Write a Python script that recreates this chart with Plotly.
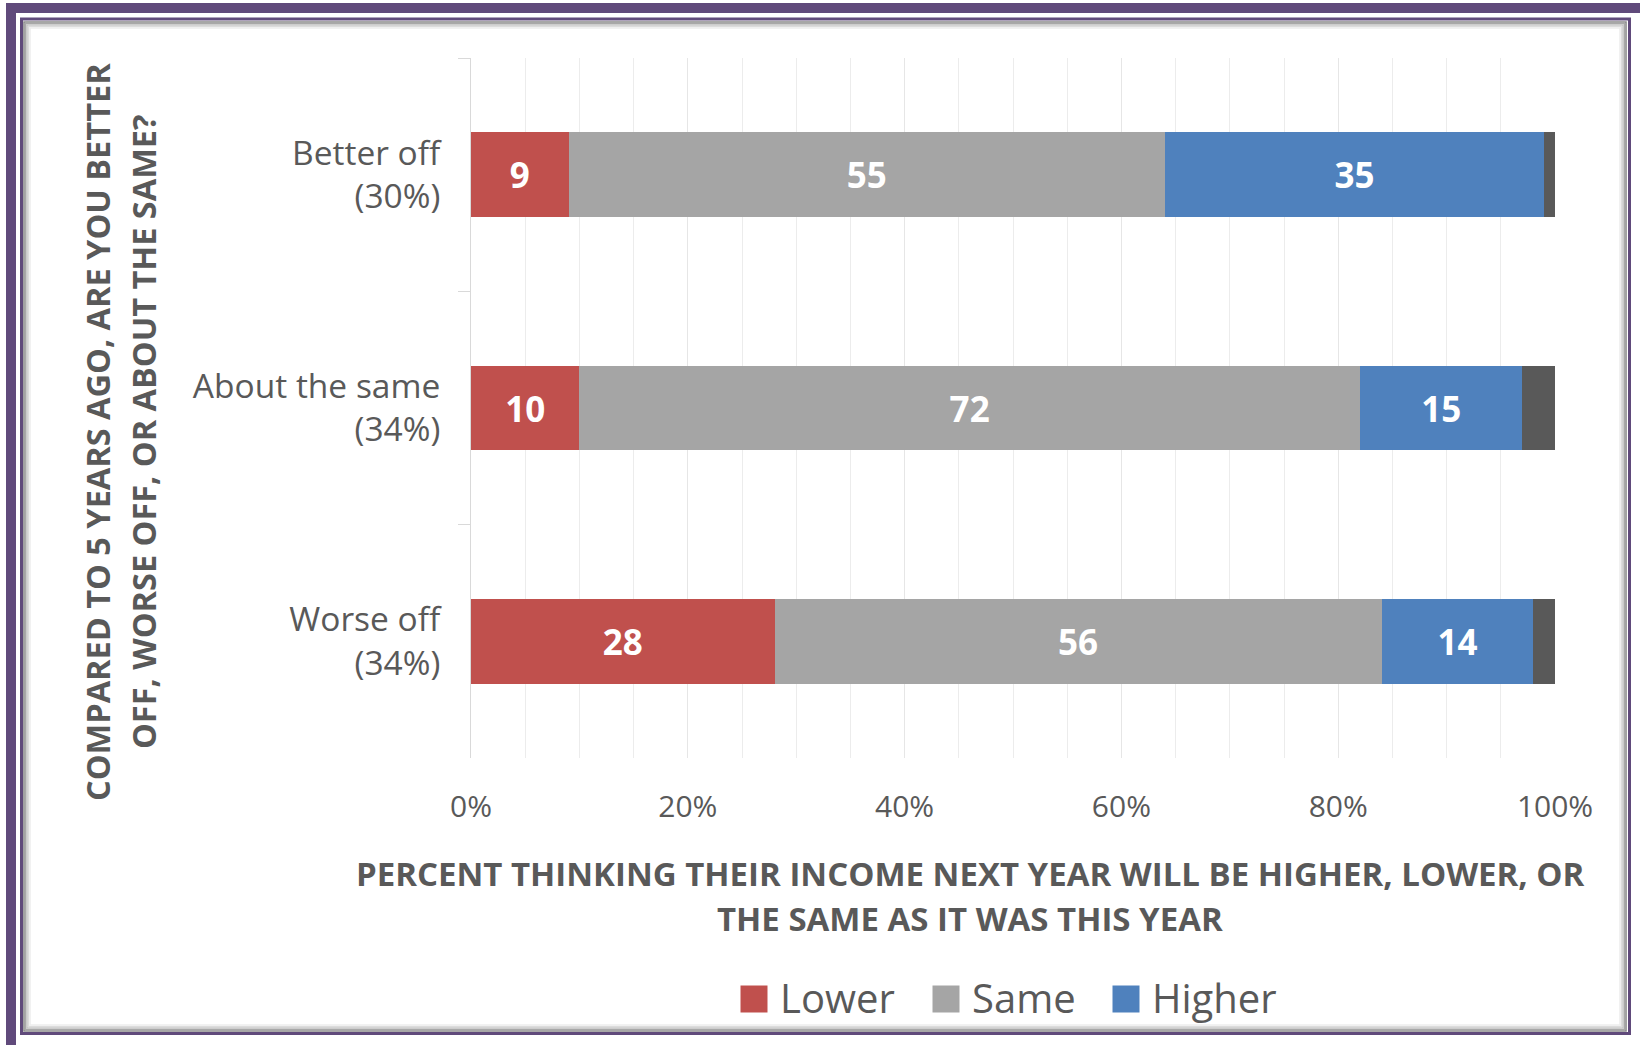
import plotly.graph_objects as go

# Survey groups (top to bottom) and the share answering each way, in percent
groups = ["Better off<br>(30%)", "About the same<br>(34%)", "Worse off<br>(34%)"]
lower = [9, 10, 28]
same = [55, 72, 56]
higher = [35, 15, 14]
remainder = [1, 3, 2]

x_ticks = [0, 20, 40, 60, 80, 100]
x_tick_text = ["0%", "20%", "40%", "60%", "80%", "100%"]

RED = "#C0504D"
GREY = "#A5A5A5"
BLUE = "#4F81BD"
DARK = "#595959"
PURPLE = "#604A7B"
TEXT = "#595959"

W, H = 1640, 1045
L, R, T, B = 471, 1555, 58, 758
PW, PH = R - L, B - T


def px(x):
    return (x - L) / PW


def py(y):
    return (B - y) / PH


fig = go.Figure()

series = [
    ("Lower", lower, RED, True),
    ("Same", same, GREY, True),
    ("Higher", higher, BLUE, True),
    ("No answer", remainder, DARK, False),
]
for name, vals, color, labelled in series:
    fig.add_trace(go.Bar(
        name=name,
        y=groups,
        x=vals,
        orientation="h",
        marker=dict(color=color, line=dict(width=0)),
        text=vals if labelled else None,
        texttemplate="%{text}" if labelled else None,
        textposition="inside" if labelled else "none",
        insidetextanchor="middle",
        textangle=0,
        constraintext="none",
        textfont=dict(family="Open Sans", size=35, color="white", weight="bold"),
        showlegend=False,
        hoverinfo="x+name",
    ))

shapes = []
# outer frame: heavy purple band, thin purple rule and a soft inner shadow
shapes.append(dict(type="rect", xref="paper", yref="paper",
                   x0=px(11), x1=px(1645), y0=py(8), y1=py(1050),
                   line=dict(color=PURPLE, width=10), layer="below"))
shapes.append(dict(type="rect", xref="paper", yref="paper",
                   x0=px(21.5), x1=px(1629.5), y0=py(19), y1=py(1033.5),
                   line=dict(color=PURPLE, width=3), layer="below"))
for i, c in enumerate(["#8a8a8a", "#a8a8a8", "#c4c4c4", "#dcdcdc", "#eeeeee"]):
    o = 24 + i * 1.5
    shapes.append(dict(type="rect", xref="paper", yref="paper",
                       x0=px(o), x1=px(1627 - i * 1.5 - 1), y0=py(22 + i * 1.5),
                       y1=py(1031 - i * 1.5),
                       line=dict(color=c, width=1.6), layer="below"))

annotations = [
    dict(text="COMPARED TO 5 YEARS AGO, ARE YOU BETTER", textangle=-90,
         xref="paper", yref="paper", x=px(97), y=py(432), showarrow=False,
         xanchor="center", yanchor="middle",
         font=dict(family="Open Sans", size=32.5, color=TEXT, weight="bold")),
    dict(text="OFF, WORSE OFF, OR ABOUT THE SAME?", textangle=-90,
         xref="paper", yref="paper", x=px(143), y=py(432), showarrow=False,
         xanchor="center", yanchor="middle",
         font=dict(family="Open Sans", size=32.5, color=TEXT, weight="bold")),
    dict(text="PERCENT THINKING THEIR INCOME NEXT YEAR WILL BE HIGHER, LOWER, OR",
         xref="paper", yref="paper", x=px(970), y=py(873), showarrow=False,
         xanchor="center", yanchor="middle",
         font=dict(family="Open Sans", size=33, color=TEXT, weight="bold")),
    dict(text="THE SAME AS IT WAS THIS YEAR",
         xref="paper", yref="paper", x=px(970), y=py(918), showarrow=False,
         xanchor="center", yanchor="middle",
         font=dict(family="Open Sans", size=33, color=TEXT, weight="bold")),
]

# legend row under the chart: a swatch and a label for each labelled series
legend_swatch_x = [754, 946, 1126]
legend_y = 999
swatch = 27
for (name, _, color, _), sx in zip(series[:3], legend_swatch_x):
    shapes.append(dict(type="rect", xref="paper", yref="paper",
                       x0=px(sx - swatch / 2), x1=px(sx + swatch / 2),
                       y0=py(legend_y + swatch / 2), y1=py(legend_y - swatch / 2),
                       fillcolor=color, line=dict(width=0)))
    annotations.append(dict(text=name, xref="paper", yref="paper",
                            x=px(sx + swatch / 2 + 10), y=py(legend_y - 2),
                            showarrow=False, xanchor="left", yanchor="middle",
                            font=dict(family="Open Sans", size=40, color=TEXT)))

fig.update_layout(
    width=W, height=H,
    margin=dict(l=L, r=W - R, t=T, b=H - B, pad=0),
    paper_bgcolor="white",
    plot_bgcolor="white",
    barmode="stack",
    bargap=0.636,
    shapes=shapes,
    annotations=annotations,
    font=dict(family="Open Sans", color=TEXT),
    showlegend=False,
    xaxis=dict(
        range=[0, 100],
        tickvals=x_ticks,
        ticktext=x_tick_text,
        showgrid=True,
        gridcolor="#E6E6E6",
        gridwidth=1,
        minor=dict(dtick=5, showgrid=True, gridcolor="#ECECEC", gridwidth=1),
        zeroline=False,
        showline=False,
        ticks="",
        ticklabelstandoff=28,
        tickfont=dict(family="Open Sans", size=30, color=TEXT),
        fixedrange=True,
    ),
    yaxis=dict(
        type="category",
        autorange="reversed",
        showgrid=False,
        showline=True,
        linecolor="#D9D9D9",
        linewidth=1,
        ticks="outside",
        tickson="boundaries",
        ticklen=12,
        tickcolor="#D9D9D9",
        ticklabelstandoff=23,
        tickfont=dict(family="Open Sans", size=33.5, color=TEXT),
        fixedrange=True,
    ),
)

fig.write_html("out.html")
